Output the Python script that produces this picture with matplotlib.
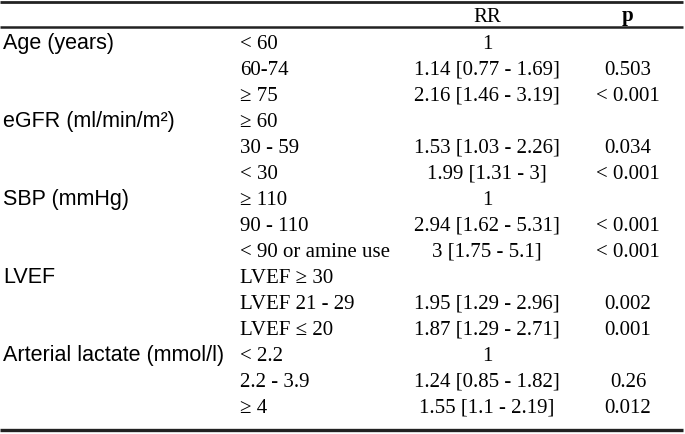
import matplotlib
matplotlib.use("Agg")
import matplotlib.pyplot as plt

# ---- data ----
groups = ["Age (years)", "", "", "eGFR (ml/min/m²)", "", "", "SBP (mmHg)", "", "",
          "LVEF", "", "", "Arterial lactate (mmol/l)", "", ""]
levels = ["< 60", "60-74", "≥ 75", "≥ 60", "30 - 59", "< 30", "≥ 110", "90 - 110",
          "< 90 or amine use", "LVEF ≥ 30", "LVEF 21 - 29", "LVEF ≤ 20", "< 2.2",
          "2.2 - 3.9", "≥ 4"]
rr = ["1", "1.14 [0.77 - 1.69]", "2.16 [1.46 - 3.19]", "", "1.53 [1.03 - 2.26]",
      "1.99 [1.31 - 3]", "1", "2.94 [1.62 - 5.31]", "3 [1.75 - 5.1]", "",
      "1.95 [1.29 - 2.96]", "1.87 [1.29 - 2.71]", "1", "1.24 [0.85 - 1.82]",
      "1.55 [1.1 - 2.19]"]
pvals = ["", "0.503", "< 0.001", "", "0.034", "< 0.001", "", "< 0.001", "< 0.001",
         "", "0.002", "0.001", "", "0.26", "0.012"]
headers = ["RR", "p"]

W, H = 685, 434
fig = plt.figure(figsize=(W / 100, H / 100), dpi=100)
ax = fig.add_axes([0, 0, 1, 1])
ax.set_xlim(0, W)
ax.set_ylim(H, 0)
ax.axis("off")

sans = "Liberation Sans"
serif = "Liberation Serif"
fs_sans = 15.5
fs_serif = 15

x_group, x_level, x_rr, x_p = 3, 240, 487, 628
y0, dy = 49.0, 26.0   # baseline of first row, row step (pixels)
y_head = 21.5

ax.text(x_rr, y_head, headers[0], family=serif, fontsize=fs_serif, ha="center", va="baseline")
ax.text(x_p, y_head, headers[1], family=serif, fontsize=fs_serif, fontweight="bold",
        ha="center", va="baseline")

for i in range(len(levels)):
    y = y0 + i * dy
    if groups[i]:
        ax.text(x_group, y, groups[i], family=sans, fontsize=fs_sans, ha="left", va="baseline")
    ax.text(x_level, y, levels[i], family=serif, fontsize=fs_serif, ha="left", va="baseline")
    if rr[i]:
        ax.text(x_rr, y, rr[i], family=serif, fontsize=fs_serif, ha="center", va="baseline")
    if pvals[i]:
        ax.text(x_p, y, pvals[i], family=serif, fontsize=fs_serif, ha="center", va="baseline")

ax.plot([0, 683], [1.5, 1.5], color="#222222", lw=2.0, solid_capstyle="butt")
ax.plot([0, 683], [26.5, 26.5], color="#222222", lw=1.8, solid_capstyle="butt")
ax.plot([0, 683], [430, 430], color="#222222", lw=2.4, solid_capstyle="butt")

fig.savefig("out.png", dpi=100)
